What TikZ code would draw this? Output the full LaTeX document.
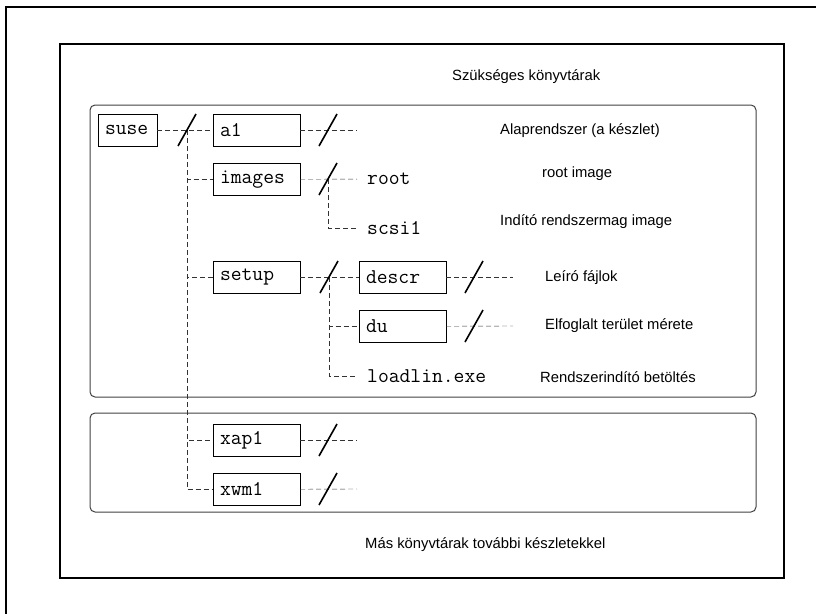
\documentclass[tikz,border=0pt]{standalone}
\usepackage{fontspec}
\setmainfont{Liberation Sans}
\usetikzlibrary{positioning}

\begin{document}
\begin{tikzpicture}[x=1pt,y=-1pt,-,thin,
    dir node/.style={draw,font=\ttfamily\fontsize{21}{22}\selectfont,minimum height=32pt,text width=73pt,inner xsep=7pt,inner ysep=0pt,align=left},
    file node/.style={font=\ttfamily\fontsize{21}{22}\selectfont,anchor=west,inner xsep=10pt,inner ysep=0pt},
    note/.style={font=\fontsize{14.8}{16}\selectfont,anchor=west,inner sep=0pt},
    link/.style={dash pattern=on 5pt off 3pt,black!80},
    cut/.style={line width=1.6pt},
    group/.style={draw=black!75,line width=1pt,rounded corners=5pt}]

                \useasboundingbox (0,0) rectangle (816,614);
                \draw[line width=2pt] (816,7) -- (6,7) -- (6,614);
                \draw[line width=1.4pt] (60,44) rectangle (784,578);
                \draw[group] (90,105) rectangle (756,397);
                \draw[group] (90,413) rectangle (756,512);

                \node[note] (t1) at (452,77) {Szükséges könyvtárak};
                \node[note] (t2) at (365,545) {Más könyvtárak további készletekkel};

                \node[dir node, text width=45pt] (suse) at (127.5,130) {suse};
                \node[dir node] (a1) at (256.5,130) {a1};
                \node[dir node] (images) [below=17pt of a1] {images};
                \node[dir node] (setup) at (256.5,277) {setup};
                \node[dir node] (descr) at (402.5,277) {descr};
                \node[dir node] (du) [below=17pt of descr] {du};
                \node[dir node] (xap1) at (256.5,440) {xap1};
                \node[dir node] (xwm1) [below=17pt of xap1] {xwm1};

                \node[file node] (root) at (357,179) {root};
                \node[file node] (scsi1) at (357,228) {scsi1};
                \node[file node] (loadlin) at (357,376) {loadlin.exe};

                \node[note] (n1) at (500,131) {Alaprendszer (a készlet)};
                \node[note] (n2) at (542,174) {root image};
                \node[note] (n3) at (500,222) {Indító rendszermag image};
                \node[note] (n4) at (545,278) {Leíró fájlok};
                \node[note] (n5) at (545,326) {Elfoglalt terület mérete};
                \node[note] (n6) at (540,377) {Rendszerindító betöltés};

                \coordinate (s1) at (187,130);
                \coordinate (s2) at (328,130);
                \coordinate (s3) at (328,179);
                \coordinate (s4) at (329,277);
                \coordinate (s5) at (474,277);
                \coordinate (s6) at (474,326);
                \coordinate (s7) at (328,440);
                \coordinate (s8) at (328,489);

                \coordinate (e1) at (357,130);
                \coordinate (e2) at (513,277);
                \coordinate (e3) at (513,326);
                \coordinate (e4) at (357,440);
                \coordinate (e5) at (357,489);

                \draw[link] (suse) to (a1);
                \draw[link] (s1) |- (images);
                \draw[link] (s1) |- (setup);
                \draw[link] (s1) |- (xap1);
                \draw[link] (s1) |- (xwm1);
                \draw[link] (a1) to (e1);
                \draw[link] (images) to (root);
                \draw[link] (s3) |- (scsi1);
                \draw[link] (setup) to (descr);
                \draw[link] (s4) |- (du);
                \draw[link] (s4) |- (loadlin);
                \draw[link] (descr) to (e2);
                \draw[link] (du) to (e3);
                \draw[link] (xap1) to (e4);
                \draw[link] (xwm1) to (e5);

                \foreach \s in {s1,s2,s3,s4,s5,s6,s7,s8}
                    \draw[cut] (\s) +(-9,16) -- +(9,-16);

                ;
            \end{tikzpicture}
\end{document}
